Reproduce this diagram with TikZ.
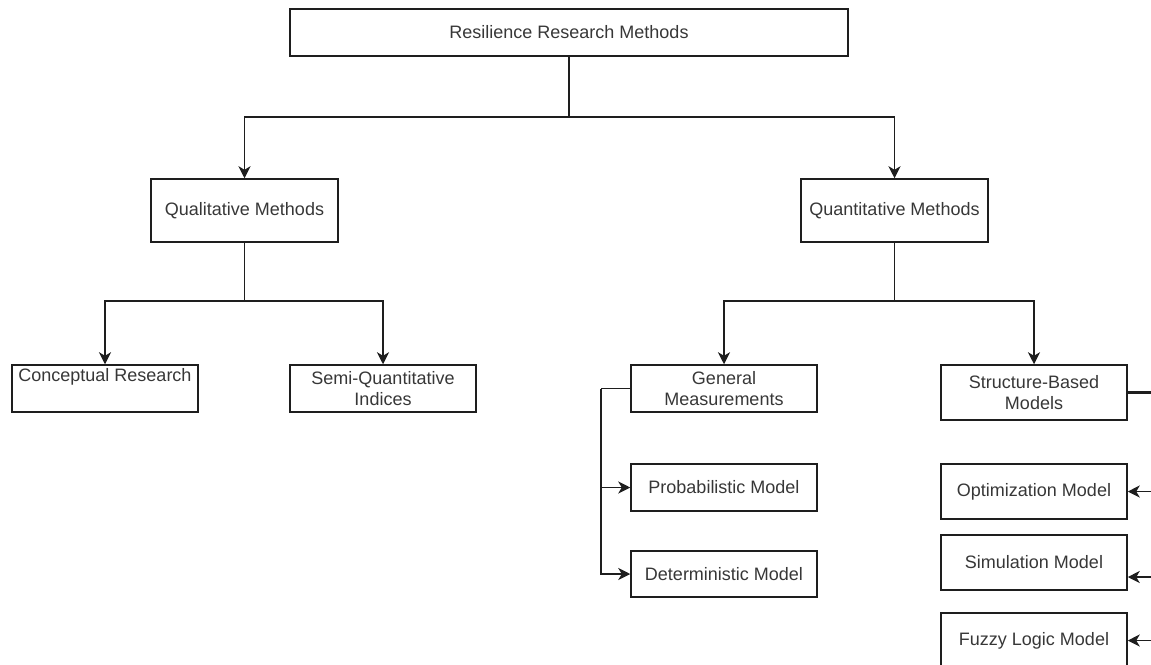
\documentclass[tikz,border=0pt]{standalone}
\usepackage{fontspec}
\setmainfont{Liberation Sans}
\usetikzlibrary{arrows.meta}
\definecolor{lineGray}{RGB}{30,30,30}
\definecolor{textGray}{RGB}{55,55,55}

\begin{document}
\begin{tikzpicture}[x=1pt, y=-1pt,
      box/.style={draw=lineGray, line width=1.5pt, minimum width=186pt,
                  minimum height=47pt, inner xsep=2pt, inner ysep=1pt,
                  align=center, text=textGray, font=\fontsize{18}{21}\selectfont},
      tall/.style={box, minimum height=55pt},
      link/.style={line width=1.5pt, color=lineGray},
      arrow/.style={link, -{Stealth[length=12pt, width=12pt, inset=3.5pt]}}
    ]
    \path[use as bounding box] (0,0) rectangle (1151,664);
    \clip (0,0) rectangle (1151,664);

    \node[box, minimum width=558pt] (res) at (569,32.5) {Resilience Research Methods};
    \node[box, minimum width=187pt, minimum height=63pt] (qual)  at (244.5,210.5) {Qualitative Methods};
    \node[box, minimum width=187pt, minimum height=63pt] (quant) at (894.5,210.5) {Quantitative Methods};

    \node[box] (concept) at (105,388.5) {Conceptual Research\\\strut};
    \node[box] (semi)    at (383,388.5) {Semi-Quantitative\\Indices};
    \node[box] (genm)    at (724,388.5) {General\\Measurements};
    \node[tall] (struct) at (1034,392.5) {Structure-Based\\Models};

    \node[box] (prob) at (724,487.5) {Probabilistic Model};
    \node[box, minimum height=46pt] (det) at (724,574) {Deterministic Model};

    \node[tall] (opt)   at (1034,491.5) {Optimization Model};
    \node[tall] (sim)   at (1034,562.5) {Simulation Model};
    \node[tall] (fuzzy) at (1034,640.5) {Fuzzy Logic Model};

    \coordinate (split0) at (569,117);
    \coordinate (split1) at (244.5,301);
    \coordinate (split2) at (894.5,301);
    \coordinate (split3) at (601,388.5);
    \coordinate (rail)   at (1165,392.5);

    \draw[link]  (res)    -- (split0);
    \draw[arrow] (split0) -| (qual);
    \draw[arrow] (split0) -| (quant);

    \draw[link]  (qual)   -- (split1);
    \draw[arrow] (split1) -| (concept);
    \draw[arrow] (split1) -| (semi);

    \draw[link]  (quant)  -- (split2);
    \draw[arrow] (split2) -| (genm);
    \draw[arrow] (split2) -| (struct);

    \draw[link]  (genm.west) -- (split3);
    \draw[arrow] (split3) |- (prob.west);
    \draw[arrow] (split3) |- (det.west);

    \draw[link, line width=2.2pt] (struct.east) -- (rail);
    \draw[arrow] (rail) |- (opt.east);
    \draw[arrow] (rail) |- ([yshift=-14.5pt]sim.east);
    \draw[arrow] (rail) |- (fuzzy.east);
  \end{tikzpicture}
\end{document}
